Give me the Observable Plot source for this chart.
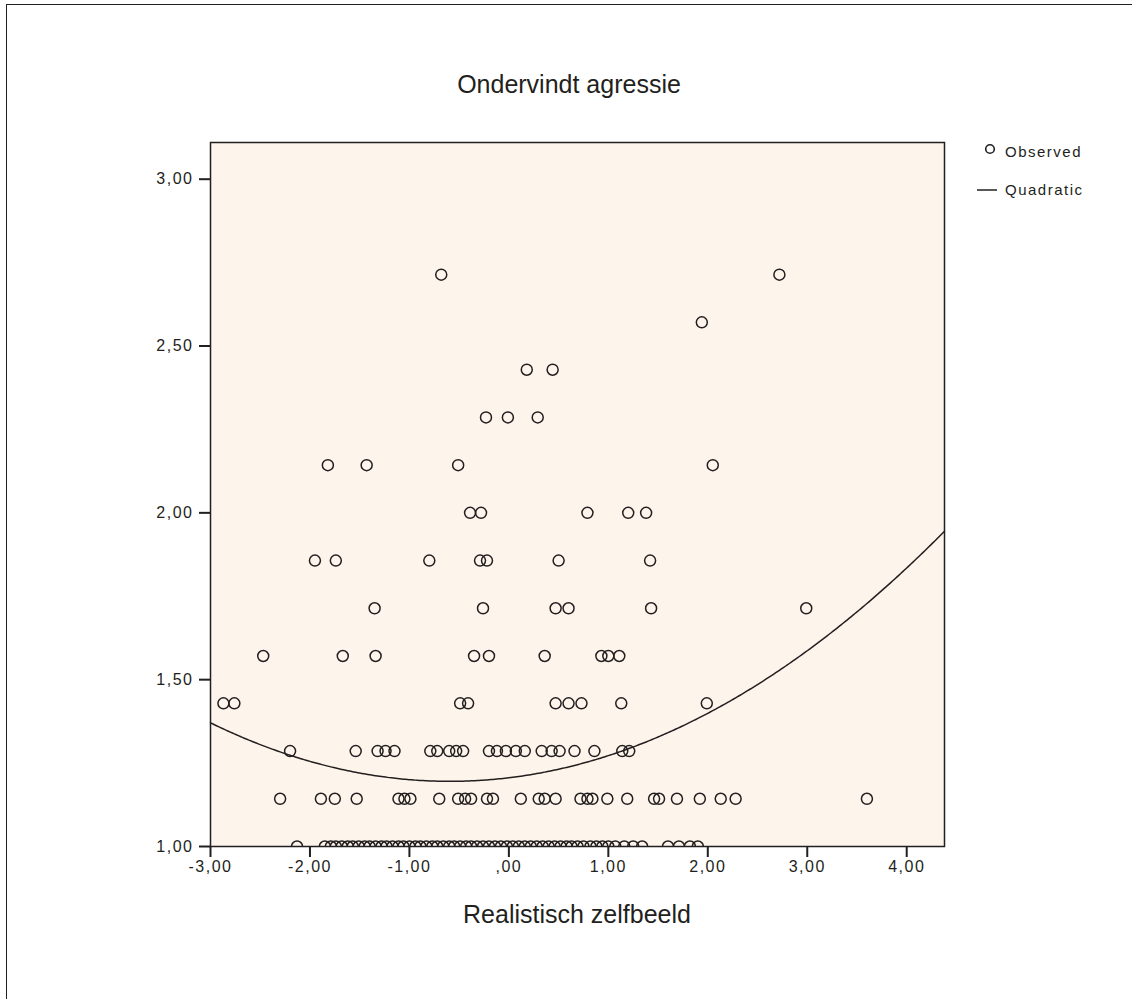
<!DOCTYPE html>
<html><head><meta charset="utf-8">
<script src="https://cdn.jsdelivr.net/npm/d3@7"></script>
<script src="https://cdn.jsdelivr.net/npm/@observablehq/plot@0.6"></script>
<style>
html,body{margin:0;padding:0;background:#fff;overflow:hidden;}
#wrap{position:relative;width:1132px;height:999px;overflow:hidden;}
#border{position:absolute;left:6px;top:4px;width:1200px;height:1100px;border:1.5px solid #231f20;}
#chart{position:absolute;left:0;top:0;}
#overlay{position:absolute;left:0;top:0;pointer-events:none;}
</style></head><body>
<div id="wrap"><div id="border"></div><div id="chart"></div><svg id="overlay" width="1132" height="999"></svg></div>
<script>
// ---- texts ----
const chartTitle = "Ondervindt agressie";
const xTitle = "Realistisch zelfbeeld";
const legendLabels = ["Observed", "Quadratic"];

// ---- axes ----
const xDomain = [-3, 4.38];
const yDomain = [1, 3.11];
const xTicks = [-3, -2, -1, 0, 1, 2, 3, 4];
const xTickLabels = ["-3,00", "-2,00", "-1,00", ",00", "1,00", "2,00", "3,00", "4,00"];
const yTicks = [1, 1.5, 2, 2.5, 3];
const yTickLabels = ["1,00", "1,50", "2,00", "2,50", "3,00"];

// ---- observed values: x (Realistisch zelfbeeld) per y level (Ondervindt agressie) ----
const yLevels = [1.000, 1.143, 1.286, 1.429, 1.571, 1.714, 1.857, 2.000, 2.143, 2.286, 2.429, 2.571, 2.714];
const x100 = [-2.13, -1.85, -1.79, -1.74, -1.68, -1.62, -1.57, -1.51, -1.45, -1.40, -1.34, -1.28, -1.23, -1.17, -1.11,
  -1.06, -1.00, -0.94, -0.89, -0.83, -0.77, -0.72, -0.66, -0.60, -0.55, -0.49, -0.43, -0.38, -0.32, -0.26, -0.20,
  -0.14, -0.08, -0.02, 0.04, 0.10, 0.16, 0.22, 0.28, 0.34, 0.40, 0.46, 0.52, 0.58, 0.63, 0.69, 0.75, 0.82, 0.88,
  0.94, 1.00, 1.07, 1.16, 1.25, 1.34, 1.60, 1.71, 1.82, 1.90];
const x114 = [-2.30, -1.89, -1.75, -1.53, -1.11, -1.05, -0.99, -0.70, -0.51, -0.44, -0.38, -0.22, -0.16, 0.12, 0.30,
  0.36, 0.47, 0.72, 0.79, 0.84, 0.99, 1.19, 1.46, 1.51, 1.69, 1.92, 2.13, 2.28, 3.60];
const x129 = [-2.20, -1.54, -1.32, -1.24, -1.15, -0.79, -0.72, -0.60, -0.53, -0.46, -0.20, -0.12, -0.03, 0.07, 0.16,
  0.33, 0.43, 0.51, 0.66, 0.86, 1.14, 1.21];
const x143 = [-2.87, -2.76, -0.49, -0.41, 0.47, 0.60, 0.73, 1.13, 1.99];
const x157 = [-2.47, -1.67, -1.34, -0.35, -0.20, 0.36, 0.93, 1.00, 1.11];
const x171 = [-1.35, -0.26, 0.47, 0.60, 1.43, 2.99];
const x186 = [-1.95, -1.74, -0.80, -0.29, -0.22, 0.50, 1.42];
const x200 = [-0.39, -0.28, 0.79, 1.20, 1.38];
const x214 = [-1.82, -1.43, -0.51, 2.05];
const x229 = [-0.23, -0.01, 0.29];
const x243 = [0.18, 0.44];
const x257 = [1.94];
const x271 = [-0.68, 2.72];

// ---- quadratic fit coefficients (y = b0 + b1*x + b2*x^2) ----
const fitB0 = 1.206, fitB1 = 0.036, fitB2 = 0.0303;

const xByLevel = [x100, x114, x129, x143, x157, x171, x186, x200, x214, x229, x243, x257, x271];
const points = xByLevel.flatMap((xs, i) => xs.map(x => ({x, y: yLevels[i]})));
const curve = d3.range(xDomain[0], xDomain[1] + 1e-9, 0.02).map(x => ({x, y: fitB0 + fitB1 * x + fitB2 * x * x}));

const ink = "#231f20";
const font = "'Liberation Sans', Arial, sans-serif";

const chart = Plot.plot({
  width: 1132, height: 999,
  marginLeft: 210, marginRight: 188, marginTop: 142, marginBottom: 153,
  x: {domain: xDomain},
  y: {domain: yDomain},
  style: {fontFamily: font, fontSize: "16px", background: "transparent", color: ink, letterSpacing: "1.5px"},
  marks: [
    Plot.frame({fill: "#fdf5eb", stroke: null}),
    Plot.line(curve, {x: "x", y: "y", stroke: ink, strokeWidth: 1.5}),
    Plot.dot(points, {x: "x", y: "y", r: 5.5, stroke: ink, strokeWidth: 1.5, fill: "none", clip: true}),
    Plot.frame({stroke: ink, strokeWidth: 1.5}),
    Plot.axisX({ticks: xTicks, tickFormat: d => xTickLabels[xTicks.indexOf(d)], tickSize: 11, tickPadding: 3,
      strokeWidth: 2, fontSize: 16, label: null}),
    Plot.axisY({ticks: yTicks, tickFormat: d => yTickLabels[yTicks.indexOf(d)], tickSize: 11, tickPadding: 6,
      strokeWidth: 2, fontSize: 16, label: null})
  ]
});
document.getElementById("chart").appendChild(chart);

// ---- titles and legend ----
const ov = d3.select("#overlay").style("font-family", font);
ov.append("text").attr("x", 569).attr("y", 93).attr("text-anchor", "middle")
  .attr("font-size", 25).attr("fill", ink).text(chartTitle);
ov.append("text").attr("x", 577).attr("y", 923).attr("text-anchor", "middle")
  .attr("font-size", 25).attr("fill", ink).text(xTitle);
ov.append("circle").attr("cx", 990).attr("cy", 149).attr("r", 4.3)
  .attr("fill", "none").attr("stroke", ink).attr("stroke-width", 1.6);
ov.append("line").attr("x1", 977).attr("x2", 997).attr("y1", 190).attr("y2", 190)
  .attr("stroke", ink).attr("stroke-width", 1.5);
ov.selectAll("text.leg").data(legendLabels).join("text").attr("class", "leg")
  .attr("x", 1005).attr("y", (d, i) => i === 0 ? 157 : 195)
  .attr("font-size", 15).attr("letter-spacing", "1.5px").attr("fill", ink).text(d => d);
</script>
</body></html>
